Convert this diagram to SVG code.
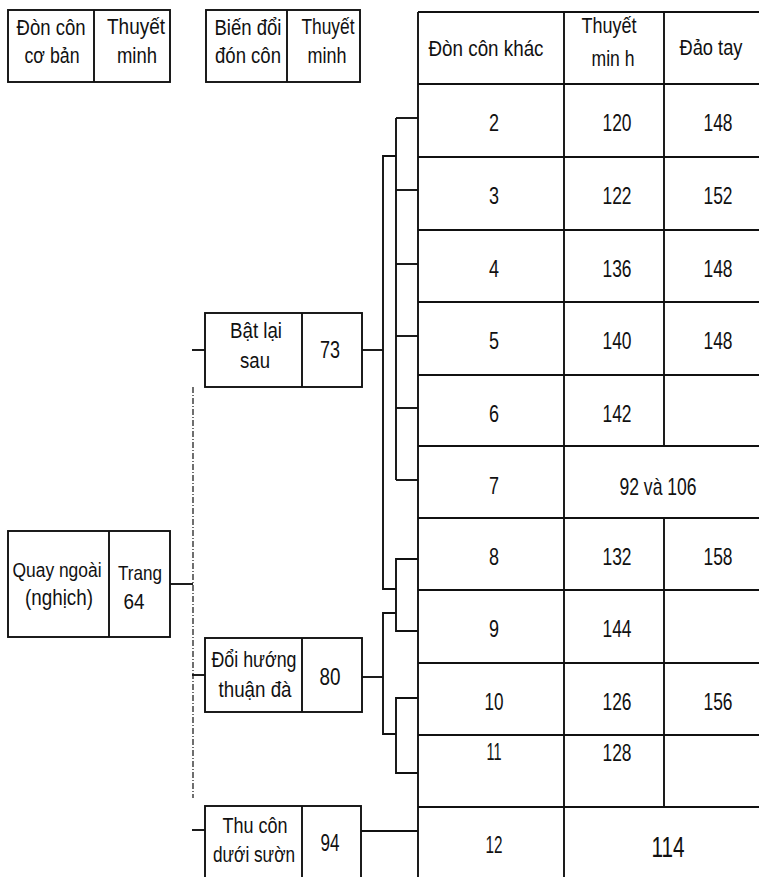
<svg xmlns="http://www.w3.org/2000/svg" width="759" height="877" viewBox="0 0 759 877">
<style>
  .box { fill: #ffffff; stroke: #111111; stroke-width: 1.9; }
  .ln { fill: none; stroke: #111111; stroke-width: 1.9; }
  .dash { fill: none; stroke: #222222; stroke-width: 1.3; stroke-dasharray: 6 2 1 2; }
  text { font-family: "Liberation Sans", Arial, sans-serif; font-size: 22px; fill: #111111; text-anchor: middle; }
  .num { font-size: 24px; }
  .big { font-size: 30px; }
  .sm { font-size: 20px; }
</style>
<rect width="759" height="877" fill="#ffffff"/>

<g id="hdr-basic">
  <rect class="box" x="8" y="10" width="162" height="72"/>
  <line class="ln" x1="94" y1="10" x2="94" y2="82"/>
  <text x="51" y="35" textLength="69" lengthAdjust="spacingAndGlyphs">Đòn côn</text>
  <text x="52" y="63" textLength="55" lengthAdjust="spacingAndGlyphs">cơ bản</text>
  <text x="136" y="34" textLength="58" lengthAdjust="spacingAndGlyphs">Thuyết</text>
  <text x="137" y="63" textLength="40" lengthAdjust="spacingAndGlyphs">minh</text>
</g>

<g id="hdr-variant">
  <rect class="box" x="206" y="10" width="154" height="72"/>
  <line class="ln" x1="287" y1="10" x2="287" y2="82"/>
  <text x="248" y="35" textLength="67" lengthAdjust="spacingAndGlyphs">Biến đổi</text>
  <text x="248" y="63" textLength="66" lengthAdjust="spacingAndGlyphs">đón côn</text>
  <text x="328" y="34" textLength="53" lengthAdjust="spacingAndGlyphs">Thuyết</text>
  <text x="327" y="63" textLength="39" lengthAdjust="spacingAndGlyphs">minh</text>
</g>

<g id="node-quay">
  <rect class="box" x="8" y="531" width="162" height="106"/>
  <line class="ln" x1="109" y1="531" x2="109" y2="637"/>
  <text class="sm" x="57" y="577" textLength="89" lengthAdjust="spacingAndGlyphs">Quay ngoài</text>
  <text x="59" y="605" textLength="68" lengthAdjust="spacingAndGlyphs">(nghịch)</text>
  <text x="140" y="580" style="font-size:21px" textLength="44" lengthAdjust="spacingAndGlyphs">Trang</text>
  <text x="134" y="609" textLength="21" lengthAdjust="spacingAndGlyphs">64</text>
</g>

<g id="node-batlai">
  <rect class="box" x="205" y="313" width="157" height="74"/>
  <line class="ln" x1="302" y1="313" x2="302" y2="387"/>
  <text x="256" y="338" textLength="52" lengthAdjust="spacingAndGlyphs">Bật lại</text>
  <text x="255" y="368" textLength="30" lengthAdjust="spacingAndGlyphs">sau</text>
  <text class="num" x="330" y="358" textLength="20" lengthAdjust="spacingAndGlyphs">73</text>
</g>

<g id="node-doihuong">
  <rect class="box" x="205" y="638" width="157" height="74"/>
  <line class="ln" x1="302" y1="638" x2="302" y2="712"/>
  <text x="254" y="667" textLength="85" lengthAdjust="spacingAndGlyphs">Đổi hướng</text>
  <text x="255" y="697" textLength="73" lengthAdjust="spacingAndGlyphs">thuận đà</text>
  <text class="num" x="330" y="685" textLength="21" lengthAdjust="spacingAndGlyphs">80</text>
</g>

<g id="node-thucon">
  <rect class="box" x="205" y="806" width="156" height="75"/>
  <line class="ln" x1="302" y1="806" x2="302" y2="877"/>
  <text x="255" y="833" textLength="65" lengthAdjust="spacingAndGlyphs">Thu côn</text>
  <text x="254" y="862" textLength="82" lengthAdjust="spacingAndGlyphs">dưới sườn</text>
  <text class="num" x="330" y="851" textLength="19" lengthAdjust="spacingAndGlyphs">94</text>
</g>

<g id="table">
  <line class="ln" x1="418" y1="12" x2="759" y2="12"/>
  <line class="ln" x1="418" y1="84" x2="759" y2="84"/>
  <line class="ln" x1="418" y1="157" x2="759" y2="157"/>
  <line class="ln" x1="418" y1="230" x2="759" y2="230"/>
  <line class="ln" x1="418" y1="302" x2="759" y2="302"/>
  <line class="ln" x1="418" y1="375" x2="759" y2="375"/>
  <line class="ln" x1="418" y1="446" x2="759" y2="446"/>
  <line class="ln" x1="418" y1="518" x2="759" y2="518"/>
  <line class="ln" x1="418" y1="590" x2="759" y2="590"/>
  <line class="ln" x1="418" y1="663" x2="759" y2="663"/>
  <line class="ln" x1="418" y1="735" x2="759" y2="735"/>
  <line class="ln" x1="418" y1="807" x2="759" y2="807"/>
  <line class="ln" x1="418" y1="12" x2="418" y2="877"/>
  <line class="ln" x1="564" y1="12" x2="564" y2="877"/>
  <line class="ln" x1="664" y1="12" x2="664" y2="446"/>
  <line class="ln" x1="664" y1="518" x2="664" y2="807"/>

  <text x="486" y="56" textLength="115" lengthAdjust="spacingAndGlyphs">Đòn côn khác</text>
  <text x="609" y="33" textLength="55" lengthAdjust="spacingAndGlyphs">Thuyết</text>
  <text x="613" y="66" textLength="43" lengthAdjust="spacingAndGlyphs">min h</text>
  <text x="711" y="55" textLength="63" lengthAdjust="spacingAndGlyphs">Đảo tay</text>

  <text class="num" x="494" y="131" textLength="10" lengthAdjust="spacingAndGlyphs">2</text>
  <text class="num" x="617" y="131" textLength="29" lengthAdjust="spacingAndGlyphs">120</text>
  <text class="num" x="718" y="131" textLength="29" lengthAdjust="spacingAndGlyphs">148</text>
  <text class="num" x="494" y="204" textLength="10" lengthAdjust="spacingAndGlyphs">3</text>
  <text class="num" x="617" y="204" textLength="29" lengthAdjust="spacingAndGlyphs">122</text>
  <text class="num" x="718" y="204" textLength="29" lengthAdjust="spacingAndGlyphs">152</text>
  <text class="num" x="494" y="277" textLength="10" lengthAdjust="spacingAndGlyphs">4</text>
  <text class="num" x="617" y="277" textLength="29" lengthAdjust="spacingAndGlyphs">136</text>
  <text class="num" x="718" y="277" textLength="29" lengthAdjust="spacingAndGlyphs">148</text>
  <text class="num" x="494" y="349" textLength="10" lengthAdjust="spacingAndGlyphs">5</text>
  <text class="num" x="617" y="349" textLength="29" lengthAdjust="spacingAndGlyphs">140</text>
  <text class="num" x="718" y="349" textLength="29" lengthAdjust="spacingAndGlyphs">148</text>
  <text class="num" x="494" y="422" textLength="10" lengthAdjust="spacingAndGlyphs">6</text>
  <text class="num" x="617" y="422" textLength="29" lengthAdjust="spacingAndGlyphs">142</text>
  <text class="num" x="494" y="494" textLength="10" lengthAdjust="spacingAndGlyphs">7</text>
  <text class="num" x="658" y="495" textLength="77" lengthAdjust="spacingAndGlyphs">92 và 106</text>
  <text class="num" x="494" y="565" textLength="10" lengthAdjust="spacingAndGlyphs">8</text>
  <text class="num" x="617" y="565" textLength="29" lengthAdjust="spacingAndGlyphs">132</text>
  <text class="num" x="718" y="565" textLength="29" lengthAdjust="spacingAndGlyphs">158</text>
  <text class="num" x="494" y="637" textLength="10" lengthAdjust="spacingAndGlyphs">9</text>
  <text class="num" x="617" y="637" textLength="29" lengthAdjust="spacingAndGlyphs">144</text>
  <text class="num" x="494" y="710" textLength="19" lengthAdjust="spacingAndGlyphs">10</text>
  <text class="num" x="617" y="710" textLength="29" lengthAdjust="spacingAndGlyphs">126</text>
  <text class="num" x="718" y="710" textLength="29" lengthAdjust="spacingAndGlyphs">156</text>
  <text class="num" x="494" y="760" textLength="15" lengthAdjust="spacingAndGlyphs">11</text>
  <text class="num" x="617" y="761" textLength="29" lengthAdjust="spacingAndGlyphs">128</text>
  <text class="num" x="494" y="853" textLength="17" lengthAdjust="spacingAndGlyphs">12</text>
  <text class="big" x="668" y="857" textLength="33" lengthAdjust="spacingAndGlyphs">114</text>
</g>

<g id="connectors">
  <line class="ln" x1="170" y1="584" x2="193" y2="584"/>
  <line class="dash" x1="193" y1="387" x2="193" y2="798"/>
  <line class="ln" x1="192" y1="350" x2="205" y2="350"/>
  <line class="ln" x1="192" y1="675" x2="205" y2="675"/>
  <line class="ln" x1="192" y1="830" x2="205" y2="830"/>

  <line class="ln" x1="362" y1="350" x2="383" y2="350"/>
  <polyline class="ln" points="396,156 383,156 383,589 396,589"/>
  <line class="ln" x1="396" y1="118" x2="396" y2="480"/>
  <line class="ln" x1="396" y1="118" x2="418" y2="118"/>
  <line class="ln" x1="396" y1="190" x2="418" y2="190"/>
  <line class="ln" x1="396" y1="264" x2="418" y2="264"/>
  <line class="ln" x1="396" y1="336" x2="418" y2="336"/>
  <line class="ln" x1="396" y1="408" x2="418" y2="408"/>
  <line class="ln" x1="396" y1="480" x2="418" y2="480"/>

  <polyline class="ln" points="418,559 396,559 396,631 418,631"/>

  <line class="ln" x1="362" y1="677" x2="383" y2="677"/>
  <polyline class="ln" points="396,613 383,613 383,734 396,734"/>
  <polyline class="ln" points="418,698 396,698 396,773 418,773"/>

  <line class="ln" x1="361" y1="831" x2="418" y2="831"/>
</g>
</svg>
